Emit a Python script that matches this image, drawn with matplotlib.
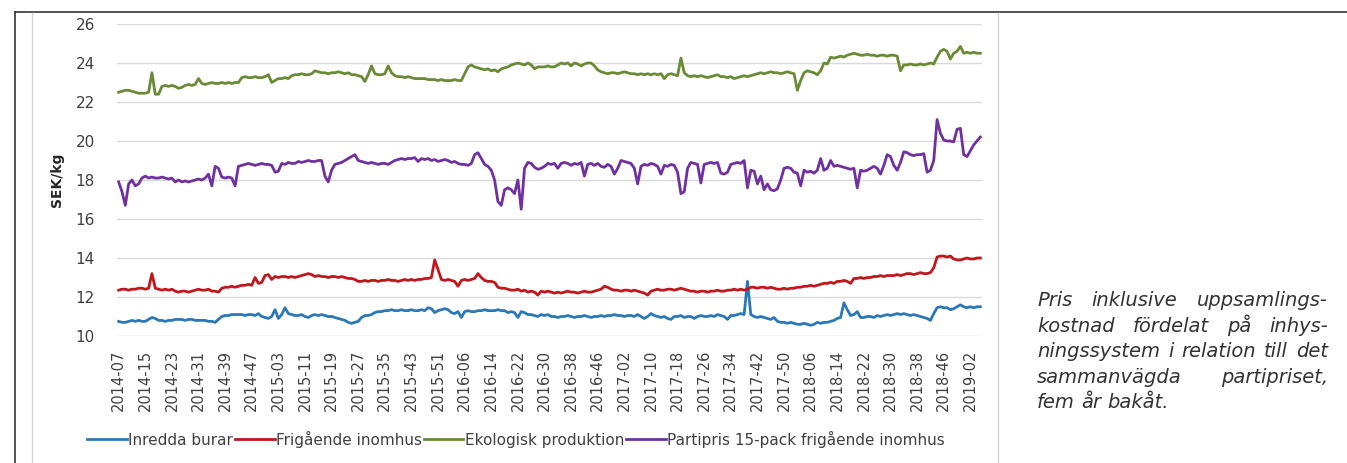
import matplotlib
matplotlib.use("Agg")
import matplotlib.pyplot as plt
from matplotlib.lines import Line2D
import numpy as np

# weekly prices, SEK/kg, 2014-07 .. 2019-06
week_labels = ["2014-07", "2014-15", "2014-23", "2014-31", "2014-39", "2014-47",
               "2015-03", "2015-11", "2015-19", "2015-27", "2015-35", "2015-43", "2015-51",
               "2016-06", "2016-14", "2016-22", "2016-30", "2016-38", "2016-46",
               "2017-02", "2017-10", "2017-18", "2017-26", "2017-34", "2017-42", "2017-50",
               "2018-06", "2018-14", "2018-22", "2018-30", "2018-38", "2018-46", "2019-02"]

series_names = ["Inredda burar", "Frigående inomhus", "Ekologisk produktion",
                "Partipris 15-pack frigående inomhus"]

inredda = [
    10.75, 10.7, 10.7, 10.75, 10.8, 10.75, 10.8, 10.75, 10.75, 10.85,
    10.95, 10.9, 10.8, 10.8, 10.75, 10.8, 10.8, 10.85, 10.85, 10.85,
    10.8, 10.85, 10.85, 10.8, 10.8, 10.8, 10.8, 10.75, 10.75, 10.7,
    10.85, 11.0, 11.05, 11.05, 11.1, 11.1, 11.1, 11.1, 11.05, 11.1,
    11.1, 11.05, 11.15, 11.0, 10.95, 10.9, 11.0, 11.35, 10.9, 11.1,
    11.45, 11.15, 11.1, 11.05, 11.05, 11.1, 11.0, 10.95, 11.05, 11.1,
    11.05, 11.1, 11.05, 11.0, 11.0, 10.95, 10.9, 10.85, 10.8, 10.7,
    10.65, 10.7, 10.75, 10.95, 11.05, 11.05, 11.1, 11.2, 11.25, 11.25,
    11.3, 11.3, 11.35, 11.3, 11.3, 11.35, 11.3, 11.3, 11.35, 11.3,
    11.3, 11.35, 11.3, 11.45, 11.4, 11.2, 11.3, 11.35, 11.4, 11.35,
    11.2, 11.15, 11.25, 10.95, 11.25, 11.3, 11.25, 11.25, 11.3, 11.3,
    11.35, 11.3, 11.3, 11.3, 11.35, 11.3, 11.3, 11.2, 11.25, 11.2,
    10.95, 11.25, 11.2, 11.1, 11.1, 11.05, 11.0, 11.1, 11.05, 11.1,
    11.0, 11.0, 10.95, 11.0, 11.0, 11.05, 11.0, 10.95, 11.0, 11.0,
    11.05, 11.0, 10.95, 11.0, 11.0, 11.05, 11.0, 11.05, 11.05, 11.1,
    11.05, 11.05, 11.0, 11.05, 11.05, 11.0, 11.1, 11.0, 10.9, 11.0,
    11.15, 11.05, 11.0, 10.95, 11.0, 10.9, 10.85, 11.0, 11.0, 11.05,
    10.95, 11.0, 11.0, 10.9, 11.0, 11.05, 11.0, 11.0, 11.05, 11.0,
    11.1, 11.05, 11.0, 10.85, 11.05, 11.05, 11.1, 11.15, 11.1, 12.8,
    11.1, 11.0, 10.95, 11.0, 10.95, 10.9, 10.85, 10.95, 10.75, 10.7,
    10.7, 10.65, 10.7, 10.65, 10.6, 10.6, 10.65, 10.6, 10.55, 10.6,
    10.7, 10.65, 10.7, 10.7, 10.75, 10.8, 10.9, 10.95, 11.7, 11.35,
    11.05, 11.1, 11.25, 10.95, 10.95, 11.0, 11.0, 10.95, 11.05, 11.0,
    11.05, 11.1, 11.05, 11.1, 11.15, 11.1, 11.15, 11.1, 11.05, 11.1,
    11.05, 11.0, 10.95, 10.9, 10.8, 11.15, 11.45, 11.5, 11.45, 11.45,
    11.35, 11.4, 11.5, 11.6, 11.5, 11.45, 11.5, 11.45, 11.5, 11.5,
]

frigaende = [
    12.35, 12.4, 12.4, 12.35, 12.4, 12.4, 12.45, 12.45, 12.4, 12.45,
    13.2, 12.45, 12.4, 12.35, 12.4, 12.35, 12.4, 12.3, 12.25, 12.3,
    12.3, 12.25, 12.3, 12.35, 12.4, 12.35, 12.35, 12.4, 12.3, 12.3,
    12.25, 12.45, 12.5, 12.5, 12.55, 12.5, 12.55, 12.6, 12.6, 12.65,
    12.6, 13.0, 12.7, 12.75, 13.1, 13.15, 12.9, 13.05, 13.0, 13.05,
    13.05, 13.0, 13.05, 13.0, 13.05, 13.1, 13.15, 13.2, 13.15, 13.05,
    13.1, 13.05, 13.05, 13.0, 13.05, 13.05, 13.0, 13.05, 13.0, 12.95,
    12.95, 12.9, 12.8, 12.8, 12.85, 12.8, 12.85, 12.85, 12.8, 12.85,
    12.85, 12.9, 12.85, 12.85, 12.8, 12.85, 12.9, 12.85, 12.9, 12.85,
    12.9, 12.9, 12.95, 12.95, 13.0, 13.9, 13.4, 12.9, 12.85, 12.9,
    12.85, 12.8, 12.55, 12.85, 12.9, 12.85, 12.9, 12.95, 13.2, 13.0,
    12.85, 12.8, 12.8, 12.75, 12.5, 12.45, 12.45, 12.4, 12.35, 12.35,
    12.4, 12.3, 12.35, 12.25, 12.3, 12.25, 12.1, 12.3, 12.25, 12.3,
    12.25, 12.2, 12.25, 12.2, 12.25, 12.3, 12.25, 12.25, 12.2, 12.25,
    12.3, 12.25, 12.25, 12.3, 12.35, 12.4, 12.55, 12.5, 12.4, 12.35,
    12.35, 12.3, 12.35, 12.35, 12.3, 12.35, 12.3, 12.25, 12.2, 12.1,
    12.3, 12.35, 12.4, 12.35, 12.35, 12.4, 12.4, 12.35, 12.4, 12.45,
    12.4, 12.35, 12.3, 12.3, 12.25, 12.3, 12.3, 12.25, 12.3, 12.3,
    12.35, 12.3, 12.3, 12.35, 12.35, 12.4, 12.35, 12.4, 12.35, 12.4,
    12.5, 12.5, 12.45, 12.5, 12.5, 12.45, 12.5, 12.45, 12.4, 12.4,
    12.45, 12.4, 12.45, 12.45, 12.5, 12.5, 12.55, 12.55, 12.6, 12.55,
    12.6, 12.65, 12.7, 12.7, 12.75, 12.7, 12.8, 12.8, 12.85, 12.8,
    12.7, 12.95, 12.95, 13.0, 12.95, 13.0, 13.0, 13.05, 13.05, 13.1,
    13.05, 13.1, 13.1, 13.1, 13.15, 13.1, 13.15, 13.2, 13.2, 13.15,
    13.2, 13.25, 13.2, 13.2, 13.25, 13.5, 14.05, 14.1, 14.1, 14.05,
    14.1, 13.95, 13.9, 13.9, 13.95, 14.0, 13.95, 13.95, 14.0, 14.0,
]

ekologisk = [
    22.5, 22.55, 22.6, 22.6, 22.55, 22.5, 22.45, 22.45, 22.45, 22.5,
    23.5, 22.4, 22.4, 22.8, 22.85, 22.8, 22.85, 22.8, 22.7, 22.75,
    22.85, 22.9, 22.85, 22.9, 23.2, 22.95, 22.9, 22.95, 23.0, 22.95,
    22.95, 23.0, 22.95, 23.0, 22.95, 23.0, 23.0, 23.25, 23.3, 23.25,
    23.25, 23.3, 23.25, 23.25, 23.3, 23.4, 23.0, 23.1, 23.2, 23.2,
    23.25, 23.2, 23.35, 23.4, 23.4, 23.45, 23.4, 23.4, 23.45, 23.6,
    23.55, 23.5, 23.5, 23.45, 23.5, 23.5, 23.55, 23.5, 23.45, 23.5,
    23.4, 23.4, 23.35, 23.3, 23.05, 23.4, 23.85, 23.45, 23.4, 23.4,
    23.45, 23.85, 23.5, 23.35, 23.3, 23.3, 23.25, 23.3, 23.25, 23.2,
    23.2, 23.2, 23.2, 23.15, 23.15, 23.15, 23.1, 23.15, 23.1, 23.1,
    23.1, 23.15, 23.1, 23.1, 23.45, 23.8, 23.9, 23.8, 23.75, 23.7,
    23.65, 23.7, 23.6, 23.65, 23.55, 23.7, 23.75, 23.8, 23.9, 23.95,
    24.0, 23.95, 23.9, 24.0, 23.9, 23.7, 23.8, 23.8, 23.8, 23.85,
    23.8, 23.8, 23.9, 24.0, 23.95, 24.0, 23.85, 24.0, 23.95, 23.85,
    23.95, 24.0, 24.0, 23.85, 23.65, 23.55, 23.5, 23.45, 23.5, 23.5,
    23.45, 23.5, 23.55, 23.5, 23.45, 23.45, 23.4, 23.45, 23.4, 23.45,
    23.4, 23.45, 23.4, 23.45, 23.2, 23.4, 23.45, 23.4, 23.35, 24.25,
    23.5, 23.35, 23.3, 23.35, 23.3, 23.35, 23.3, 23.25, 23.3, 23.35,
    23.4, 23.3, 23.3, 23.25, 23.3, 23.2, 23.25, 23.3, 23.35, 23.3,
    23.35, 23.4, 23.45, 23.5, 23.45, 23.5, 23.55, 23.5, 23.5, 23.45,
    23.5, 23.55, 23.5, 23.45, 22.6, 23.1, 23.5, 23.6, 23.55, 23.5,
    23.4, 23.6, 24.0, 23.95, 24.3, 24.25, 24.3, 24.35, 24.3, 24.4,
    24.45, 24.5, 24.45, 24.4, 24.4, 24.45, 24.4, 24.4, 24.35, 24.4,
    24.4, 24.35, 24.4, 24.4, 24.35, 23.6, 23.9, 23.9, 23.95, 23.9,
    23.9, 23.95, 23.9, 23.95, 24.0, 23.95, 24.3, 24.6, 24.7, 24.6,
    24.2, 24.5, 24.6, 24.85, 24.5, 24.55, 24.5, 24.55, 24.5, 24.5,
]

partipris = [
    17.9, 17.4, 16.7, 17.8, 18.0, 17.7, 17.8, 18.1, 18.2, 18.1,
    18.15, 18.1, 18.1, 18.15, 18.1, 18.05, 18.1, 17.9, 18.0, 17.9,
    17.95, 17.9, 17.95, 18.0, 18.05, 18.0, 18.1, 18.3, 17.7, 18.7,
    18.6, 18.15, 18.1, 18.15, 18.1, 17.7, 18.7, 18.75, 18.8, 18.85,
    18.8, 18.75, 18.8, 18.85, 18.8, 18.8, 18.75, 18.4, 18.45, 18.85,
    18.8, 18.9, 18.85, 18.85, 18.95, 18.9, 18.95, 19.0, 18.95, 18.95,
    19.0, 19.0, 18.2, 17.9, 18.5, 18.8, 18.85, 18.9, 19.0, 19.1,
    19.2, 19.3, 19.0, 18.95, 18.9, 18.85, 18.9, 18.85, 18.8, 18.85,
    18.85, 18.8, 18.9, 19.0, 19.05, 19.1, 19.05, 19.1, 19.1, 19.15,
    18.95, 19.1, 19.05, 19.1, 19.0, 19.05, 18.95, 19.0, 19.05, 19.0,
    18.9, 18.95, 18.85, 18.8, 18.8, 18.75, 18.85, 19.3, 19.4, 19.1,
    18.8, 18.7, 18.5, 18.0, 16.9, 16.7, 17.5, 17.6, 17.5, 17.3,
    18.0, 16.5, 18.6, 18.9, 18.85, 18.65, 18.55, 18.6, 18.7, 18.85,
    18.8, 18.85, 18.6, 18.85, 18.9, 18.85, 18.75, 18.85, 18.8, 18.9,
    18.2, 18.8, 18.85, 18.75, 18.85, 18.7, 18.65, 18.8, 18.7, 18.3,
    18.6, 19.0, 18.95, 18.9, 18.85, 18.6, 17.8, 18.7, 18.8, 18.75,
    18.85, 18.8, 18.7, 18.3, 18.75, 18.7, 18.8, 18.75, 18.4, 17.3,
    17.4, 18.6, 18.9, 18.85, 18.8, 17.85, 18.8, 18.85, 18.9, 18.85,
    18.9, 18.35, 18.3, 18.4, 18.8, 18.85, 18.9, 18.85, 19.0, 17.6,
    18.5, 18.45, 17.8, 18.2, 17.5, 17.8, 17.5, 17.45, 17.55, 18.0,
    18.6, 18.65, 18.6, 18.4, 18.35, 17.7, 18.5, 18.4, 18.45, 18.35,
    18.5, 19.1, 18.5, 18.6, 19.0, 18.7, 18.75, 18.7, 18.65, 18.6,
    18.55, 18.6, 17.6, 18.5, 18.45, 18.5, 18.6, 18.7, 18.6, 18.3,
    18.75, 19.3, 19.2, 18.75, 18.5, 18.9, 19.45, 19.4, 19.3, 19.25,
    19.3, 19.3, 19.35, 18.4, 18.5, 19.0, 21.1, 20.4, 20.05, 20.0,
    20.0, 19.95, 20.6, 20.65, 19.3, 19.2, 19.5, 19.8, 20.0, 20.2,
]

caption_lines = ["Pris inklusive uppsamlings-",
                 "kostnad fördelat på inhys-",
                 "ningssystem i relation till det",
                 "sammanvägda partipriset,",
                 "fem år bakåt."]

colors = ["#2a78b8", "#c0161c", "#6a8a35", "#7030a0"]

W, H = 1347, 463
fig = plt.figure(figsize=(W / 100, H / 100), dpi=100)
ax = fig.add_axes([117 / W, (H - 336) / H, 865 / W, 312 / H])

handles = []
for values, color in zip([inredda, frigaende, ekologisk, partipris], colors):
    line, = ax.plot(np.arange(len(values)), values, color=color, lw=2.0,
                    solid_joinstyle="round")
    handles.append(line)

ax.set_xlim(-0.5, len(inredda) - 0.5)
ax.set_ylim(10, 26)
ax.set_yticks(range(10, 27, 2))
ax.set_xticks(np.arange(len(week_labels)) * 8)
ax.set_xticklabels(week_labels, rotation=90, fontsize=10.5, color="#404040")
ax.tick_params(length=0)
ax.tick_params(axis="y", pad=16, labelsize=11, labelcolor="#404040")
ax.tick_params(axis="x", pad=10)
ax.grid(axis="y", color="#d9d9d9", lw=1)
ax.set_axisbelow(True)
for sp in ax.spines.values():
    sp.set_visible(False)
ax.set_ylabel("SEK/kg", fontsize=10, fontweight="bold", color="#262626")
ax.yaxis.set_label_coords(-0.061, 0.5)

fig.legend(handles, series_names, loc="center", bbox_to_anchor=(516 / W, 1 - 439 / H),
           ncol=4, frameon=False, fontsize=11, labelcolor="#404040",
           handlelength=2.6, handletextpad=0.1, columnspacing=0.1)

# outer frame and chart border
top = 1 - 12 / H
fig.add_artist(Line2D([15 / W, 15 / W], [0, top], color="#333333", lw=1.2,
                      transform=fig.transFigure))
fig.add_artist(Line2D([15 / W, 1], [top, top], color="#333333", lw=1.2,
                      transform=fig.transFigure))
for xp in (32, 998):
    fig.add_artist(Line2D([xp / W, xp / W], [0, top - 0.002], color="#d4d4d4",
                          lw=1.0, transform=fig.transFigure))

# justified caption
renderer = fig.canvas.get_renderer()
left, right = 1037, 1328
for k, line in enumerate(caption_lines):
    y = 1 - (306.5 + 25.4 * k) / H
    words = line.split()
    texts = [fig.text(0, y, w, style="italic", fontsize=14,
                      color="#333333", va="baseline") for w in words]
    widths = [t.get_window_extent(renderer).width for t in texts]
    if k < len(caption_lines) - 1:
        gap = (right - left - sum(widths)) / (len(words) - 1)
    else:
        gap = 6
    xpos = left
    for t, w in zip(texts, widths):
        t.set_x(xpos / W)
        xpos += w + gap

fig.savefig("out.png", dpi=100)
